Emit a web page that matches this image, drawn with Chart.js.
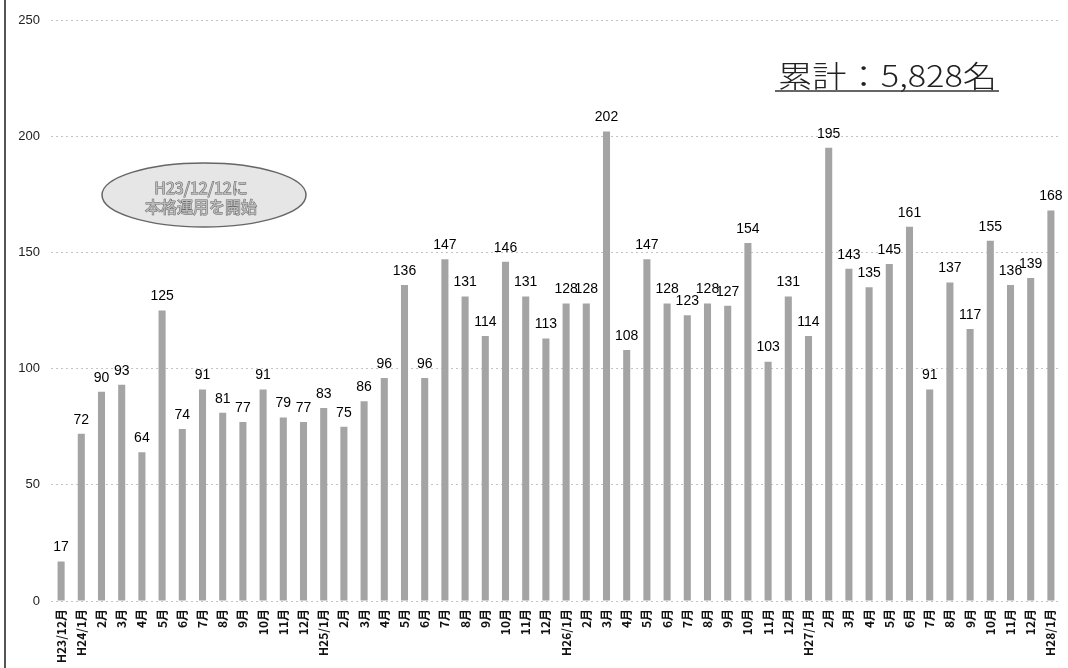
<!DOCTYPE html>
<html>
<head>
<meta charset="utf-8">
<script src="https://cdn.jsdelivr.net/npm/chart.js@4.4.1/dist/chart.umd.min.js"></script>
<style>
html,body{margin:0;padding:0;background:#fff;}
#wrap{width:1068px;height:668px;position:relative;}
</style>
</head>
<body>
<div id="wrap"><canvas id="c"></canvas></div>
<script>
const categories = [
  "H23/12月",
  "H24/1月","2月","3月","4月","5月","6月","7月","8月","9月","10月","11月","12月",
  "H25/1月","2月","3月","4月","5月","6月","7月","8月","9月","10月","11月","12月",
  "H26/1月","2月","3月","4月","5月","6月","7月","8月","9月","10月","11月","12月",
  "H27/1月","2月","3月","4月","5月","6月","7月","8月","9月","10月","11月","12月",
  "H28/1月"
];
const counts = [
  17,
  72,90,93,64,125,74,91,81,77,91,79,77,
  83,75,86,96,136,96,147,131,114,146,131,113,
  128,128,202,108,147,128,123,128,127,154,103,131,
  114,195,143,135,145,161,91,137,117,155,136,139,
  168
];
const yTicks = [0,50,100,150,200,250];
const totalText = "累計：5,828名";
const noteLines = ["H23/12/12に","本格運用を開始"];

const annotations = {
  id: 'annotations',
  afterDatasetsDraw(chart) {
    const ctx = chart.ctx;
    const meta = chart.getDatasetMeta(0);
    ctx.save();
    ctx.font = '14px "Liberation Sans", Arial, sans-serif';
    ctx.fillStyle = '#000';
    ctx.textAlign = 'center';
    ctx.textBaseline = 'bottom';
    meta.data.forEach((el, i) => {
      ctx.fillText(String(counts[i]), el.x, el.y - 7);
    });
    ctx.restore();
  },
  afterDraw(chart) {
    const ctx = chart.ctx;
    ctx.save();
    // left frame line
    ctx.strokeStyle = '#555';
    ctx.lineWidth = 2;
    ctx.beginPath();
    ctx.moveTo(5, 0); ctx.lineTo(5, 668);
    ctx.stroke();
    // total
    ctx.font = '300 30px "Noto Sans CJK JP", sans-serif';
    ctx.fillStyle = '#222';
    ctx.textAlign = 'left';
    ctx.textBaseline = 'alphabetic';
    const tx = 778, ty = 87;
    const w = ctx.measureText(totalText).width;
    const sx = 219 / w;
    ctx.save();
    ctx.translate(tx, ty);
    ctx.scale(sx, 1);
    ctx.fillText(totalText, 0, 0);
    ctx.restore();
    ctx.strokeStyle = '#333';
    ctx.lineWidth = 1.5;
    ctx.beginPath();
    ctx.moveTo(tx - 3, 91); ctx.lineTo(tx + 221, 91);
    ctx.stroke();
    // ellipse note
    ctx.beginPath();
    ctx.ellipse(204, 195, 102, 32, 0, 0, Math.PI * 2);
    ctx.fillStyle = '#e6e6e6';
    ctx.fill();
    ctx.strokeStyle = '#666';
    ctx.lineWidth = 1.5;
    ctx.stroke();
    ctx.font = '16px "Noto Sans CJK JP", sans-serif';
    ctx.textAlign = 'center';
    ctx.textBaseline = 'middle';
    ctx.fillStyle = '#bdbdbd';
    ctx.strokeStyle = '#6a6a6a';
    ctx.lineWidth = 1;
    [[noteLines[0], 188], [noteLines[1], 207]].forEach(([t, y]) => {
      ctx.strokeText(t, 201, y);
      ctx.fillText(t, 201, y);
    });
    ctx.restore();
  }
};

new Chart(document.getElementById('c'), {
  type: 'bar',
  data: {
    labels: categories,
    datasets: [{
      data: counts,
      backgroundColor: '#a4a4a4',
      borderWidth: 0,
      barPercentage: 0.35,
      categoryPercentage: 1.0
    }]
  },
  options: {
    responsive: true,
    maintainAspectRatio: false,
    animation: false,
    layout: { padding: { top: 20, right: 7, left: 0, bottom: 0 } },
    plugins: { legend: { display: false }, tooltip: { enabled: false } },
    scales: {
      x: {
        grid: { display: false, drawTicks: false },
        border: { display: false },
        ticks: {
          autoSkip: false, minRotation: 90, maxRotation: 90, padding: 8,
          color: '#111',
          font: { family: '"Noto Sans CJK JP", sans-serif', size: 12, weight: 'bold' }
        },
        afterFit(scale) {
          scale.height = 67;
          scale.paddingLeft = 0;
          scale.paddingRight = 0;
        }
      },
      y: {
        min: 0, max: 250,
        afterBuildTicks(scale) { scale.ticks = yTicks.map(v => ({ value: v })); },
        grid: { color: '#c4c4c4', lineWidth: 1, drawTicks: false },
        border: { display: false, dash: [2, 3] },
        ticks: {
          padding: 11, color: '#222',
          font: { family: '"Liberation Sans", Arial, sans-serif', size: 13 }
        },
        afterFit(scale) { scale.width = 51; }
      }
    }
  },
  plugins: [annotations]
});
</script>
</body>
</html>
